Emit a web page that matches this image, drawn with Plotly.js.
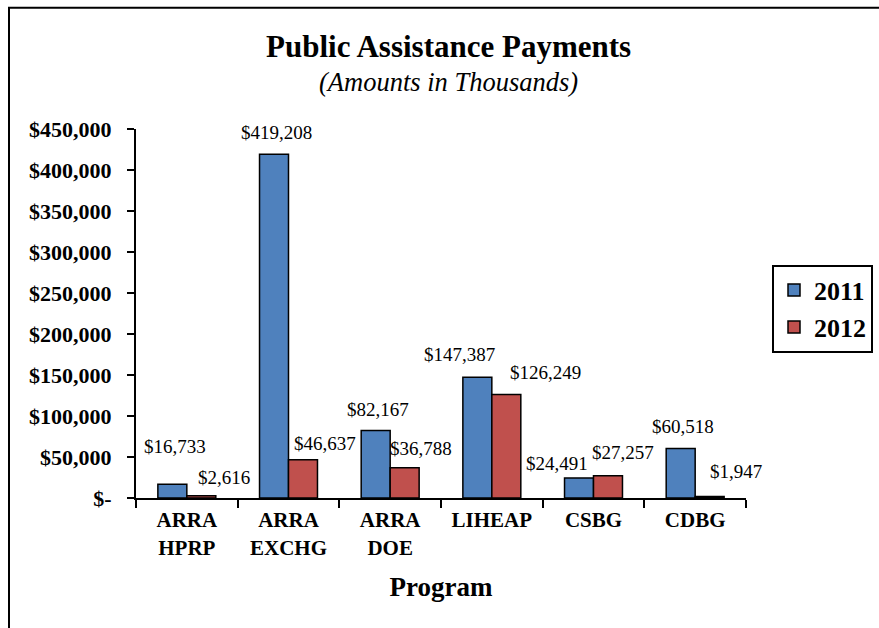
<!DOCTYPE html>
<html>
<head>
<meta charset="utf-8">
<script src="https://cdn.plot.ly/plotly-3.0.1.min.js"></script>
<style>
html,body{margin:0;padding:0;background:#fff;}
#chart{width:879px;height:628px;}
</style>
</head>
<body>
<div id="chart"></div>
<script>
var categories = ["ARRA<br>HPRP", "ARRA<br>EXCHG", "ARRA<br>DOE", "LIHEAP", "CSBG", "CDBG"];
var series2011 = [16733, 419208, 82167, 147387, 24491, 60518];
var series2012 = [2616, 46637, 36788, 126249, 27257, 1947];
var yTickVals = [0, 50000, 100000, 150000, 200000, 250000, 300000, 350000, 400000, 450000];
var yTickText = ["$-", "$50,000", "$100,000", "$150,000", "$200,000", "$250,000", "$300,000", "$350,000", "$400,000", "$450,000"];

// label pixel offsets (style only)
var shift2011 = [[-12, 38], [-12, 22], [-12, 21], [-32, 23], [-37, 14], [-12, 22]];
var shift2012 = [[37, 18], [36, 16], [31, 19], [54, 22], [29, 23], [41, 25]];

function money(v) { return "$" + v.toLocaleString("en-US"); }

var FONT = "Liberation Serif, Times New Roman, serif";

var trace2011 = {
  type: "bar", name: "2011", x: categories, y: series2011,
  marker: {color: "#4F81BD", line: {color: "#000", width: 1.5}},
  hoverinfo: "none"
};
var trace2012 = {
  type: "bar", name: "2012", x: categories, y: series2012,
  marker: {color: "#C0504D", line: {color: "#000", width: 1.5}},
  hoverinfo: "none"
};

var annotations = [];
function addLabels(vals, shifts) {
  for (var i = 0; i < vals.length; i++) {
    annotations.push({
      x: i, y: vals[i], xref: "x", yref: "y",
      text: money(vals[i]), showarrow: false,
      xanchor: "center", yanchor: "middle",
      xshift: shifts[i][0], yshift: shifts[i][1],
      font: {family: FONT, size: 19, color: "#000"}
    });
  }
}
addLabels(series2011, shift2011);
addLabels(series2012, shift2012);

// titles
annotations.push({
  xref: "paper", yref: "paper", x: (448 - 136) / 610, y: (498.3 - 47) / 369,
  text: "Public Assistance Payments", showarrow: false, xanchor: "center", yanchor: "middle",
  font: {family: FONT, size: 31, color: "#000", weight: "bold"}
});
annotations.push({
  xref: "paper", yref: "paper", x: (448 - 136) / 610, y: (498.3 - 82) / 369,
  text: "(Amounts in Thousands)", showarrow: false, xanchor: "center", yanchor: "middle",
  font: {family: FONT, size: 26.5, color: "#000", style: "italic"}
});

var layout = {
  width: 879, height: 628,
  margin: {l: 136, r: 133, t: 129, b: 130, autoexpand: false},
  paper_bgcolor: "#fff", plot_bgcolor: "#fff",
  barmode: "group", bargap: 0.43, bargroupgap: 0,
  showlegend: true,
  legend: {
    x: (772 - 136) / 610, y: (498.3 - 265) / 369, xanchor: "left", yanchor: "top",
    bordercolor: "#000", borderwidth: 2, bgcolor: "#fff",
    font: {family: FONT, size: 26, color: "#000", weight: "bold"},
    tracegroupgap: 10, itemwidth: 30
  },
  xaxis: {
    type: "category", range: [-0.5, 5.5], autorange: false,
    showline: true, linecolor: "#000", linewidth: 2,
    ticks: "outside", tickson: "boundaries", ticklen: 8, tickcolor: "#000", tickwidth: 2,
    tickfont: {family: FONT, size: 21, color: "#000", weight: "bold"},
    showgrid: false, zeroline: false, fixedrange: true, automargin: false, ticklabelstandoff: 2,
    title: {text: "Program", font: {family: FONT, size: 27, color: "#000", weight: "bold"}, standoff: 19}
  },
  yaxis: {
    range: [0, 450000], showline: true, linecolor: "#000", linewidth: 2,
    ticks: "outside", ticklen: 7, tickcolor: "#000", tickwidth: 2,
    tickvals: yTickVals, ticktext: yTickText,
    tickfont: {family: FONT, size: 22, color: "#000", weight: "bold"},
    showgrid: false, zeroline: false, fixedrange: true, automargin: false, ticklabelstandoff: 11
  },
  shapes: [{
    type: "rect", xref: "paper", yref: "paper",
    x0: (9 - 136) / 610, x1: (900 - 136) / 610,
    y0: (498.3 - 650) / 369, y1: (498.3 - 8) / 369,
    line: {color: "#000", width: 2}, fillcolor: "rgba(0,0,0,0)", layer: "below"
  }],
  annotations: annotations
};

Plotly.newPlot("chart", [trace2011, trace2012], layout, {displayModeBar: false, staticPlot: true});
</script>
</body>
</html>
